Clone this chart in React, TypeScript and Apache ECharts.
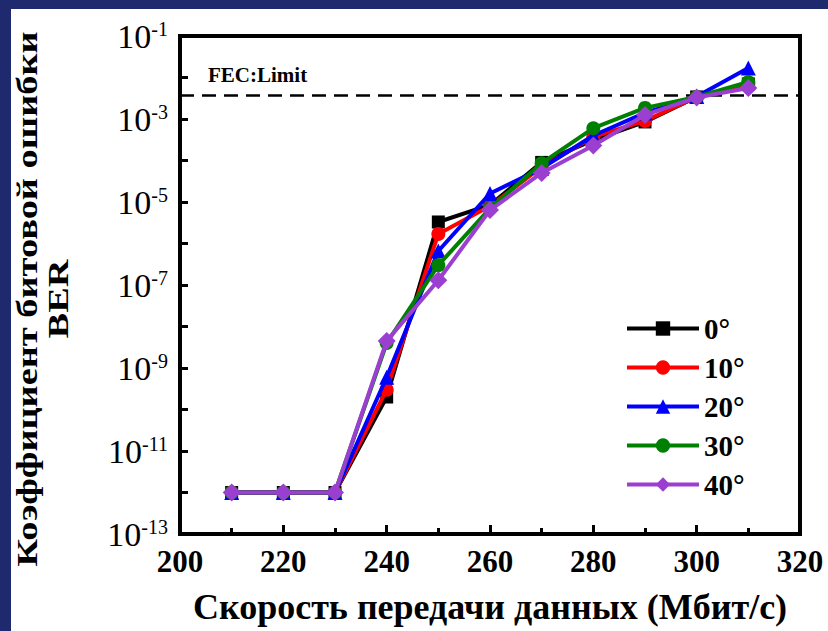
import React, { useEffect, useRef } from 'react';
import * as echarts from 'echarts';

const rates = [210, 220, 230, 240, 250, 260, 270, 280, 290, 300, 310];
const ber0 = [1e-12, 1e-12, 1e-12, 2e-10, 3.3e-6, 8.5e-6, 9e-5, 3.1e-4, 8.5e-4, 3.4e-3, 7e-3];
const ber10 = [1e-12, 1e-12, 1e-12, 3e-10, 1.7e-6, 8e-6, 7e-5, 3.7e-4, 9e-4, 3.4e-3, 7e-3];
const ber20 = [1e-12, 1e-12, 1e-12, 6e-10, 6.6e-7, 1.6e-5, 6.5e-5, 4e-4, 1.4e-3, 3.5e-3, 1.7e-2];
const ber30 = [1e-12, 1e-12, 1e-12, 4e-9, 3e-7, 7e-6, 8.6e-5, 6e-4, 1.85e-3, 3.4e-3, 7.8e-3];
const ber40 = [1e-12, 1e-12, 1e-12, 4.5e-9, 1.3e-7, 6.4e-6, 5e-5, 2.3e-4, 1.25e-3, 3.3e-3, 5.6e-3];
const seriesNames = ['0°', '10°', '20°', '30°', '40°'];
const seriesData = [ber0, ber10, ber20, ber30, ber40];
const colors = ['#000000', '#ff0000', '#0000ff', '#008000', '#9b3fd0'];
const symbols = ['rect', 'circle', 'triangle', 'circle', 'diamond'];
const symbolSizes = [13, 14, 15, 14, 18];
const fecLimit = 3.8e-3;
const fecLabel = 'FEC:Limit';
const xTitle = 'Скорость передачи данных (Мбит/с)';
const yTitle = 'Коэффициент битовой ошибки\nBER';
// y axis: decades (log10 of BER)
const yMinExp = -13;
const yMaxExp = -1;

const FONT = '"Liberation Serif", "Times New Roman", serif';

export default function App() {
  const ref = useRef<HTMLDivElement>(null);
  useEffect(() => {
    const chart = echarts.init(ref.current!, null, { renderer: 'svg' });
    const series: any[] = seriesNames.map((name, i) => ({
      name,
      type: 'line',
      data: rates.map((x, j) => [x, Math.log10(seriesData[i][j])]),
      symbol: symbols[i],
      symbolSize: symbolSizes[i],
      lineStyle: { color: colors[i], width: 4 },
      itemStyle: { color: colors[i] },
      z: 2 + i,
    }));
    series[0].markLine = {
      silent: true,
      symbol: ['none', 'none'],
      data: [{ yAxis: Math.log10(fecLimit) }],
      lineStyle: { color: '#000', type: [14, 8], width: 2.5 },
      label: {
        show: true,
        formatter: fecLabel,
        position: 'insideStartTop',
        distance: 9,
        padding: [0, 0, 0, 19],
        fontFamily: FONT,
        fontWeight: 'bold',
        fontSize: 21,
        color: '#000',
      },
    };
    chart.setOption({
      animation: false,
      backgroundColor: '#ffffff',
      grid: {
        left: 169,
        top: 27,
        right: 28,
        bottom: 97,
        show: true,
        borderColor: '#000',
        borderWidth: 4,
        backgroundColor: 'transparent',
      },
      legend: {
        orient: 'vertical',
        left: 614,
        top: 305,
        itemWidth: 72,
        itemHeight: 18,
        itemGap: 10,
        padding: 0,
        lineStyle: { width: 4 },
        textStyle: { fontFamily: FONT, fontWeight: 'bold', fontSize: 29, color: '#000', lineHeight: 28 },
        data: seriesNames,
      },
      graphic: [
        {
          type: 'text',
          x: 31,
          y: 290,
          rotation: Math.PI / 2,
          scaleX: 1.28,
          style: {
            text: yTitle,
            align: 'center',
            verticalAlign: 'middle',
            fontFamily: FONT,
            fontWeight: 'bold',
            fontSize: 30,
            lineHeight: 31,
            fill: '#000',
          },
        },
      ],
      xAxis: {
        type: 'value',
        min: 200,
        max: 320,
        interval: 20,
        axisLine: { show: true, lineStyle: { color: '#000', width: 4 } },
        axisTick: { show: true, inside: true, length: 9, lineStyle: { color: '#000', width: 3 } },
        minorTick: { show: true, splitNumber: 2, length: 6, lineStyle: { color: '#000', width: 3 } },
        splitLine: { show: false },
        minorSplitLine: { show: false },
        axisLabel: { fontFamily: FONT, fontWeight: 'bold', fontSize: 31, color: '#000', margin: 12 },
        name: xTitle,
        nameLocation: 'middle',
        nameGap: 55,
        nameTextStyle: { fontFamily: FONT, fontWeight: 'bold', fontSize: 36, color: '#000' },
      },
      yAxis: {
        type: 'value',
        min: yMinExp,
        max: yMaxExp,
        interval: 1,
        axisLine: { show: true, lineStyle: { color: '#000', width: 4 } },
        axisTick: { show: true, inside: true, length: 8, lineStyle: { color: '#000', width: 3 } },
        splitLine: { show: false },
        axisLabel: {
          margin: 12,
          formatter: (v: number) => {
            const e = Math.round(v);
            return e % 2 === 0 ? '' : `{b|10}{s|${e}}`;
          },
          rich: {
            b: { fontFamily: FONT, fontSize: 34, color: '#000', lineHeight: 34 },
            s: { fontFamily: FONT, fontSize: 20, color: '#000', verticalAlign: 'top', lineHeight: 34, padding: [0, 0, 14, 0] },
          },
        },
      },
      series,
    });
    return () => chart.dispose();
  }, []);
  return (
    <div style={{ position: 'fixed', left: 0, top: 0, width: 828, height: 631, background: '#1f2a6e', overflow: 'hidden' }}>
      <div ref={ref} style={{ position: 'absolute', left: 11, top: 9, width: 817, height: 622, background: '#ffffff' }} />
    </div>
  );
}
